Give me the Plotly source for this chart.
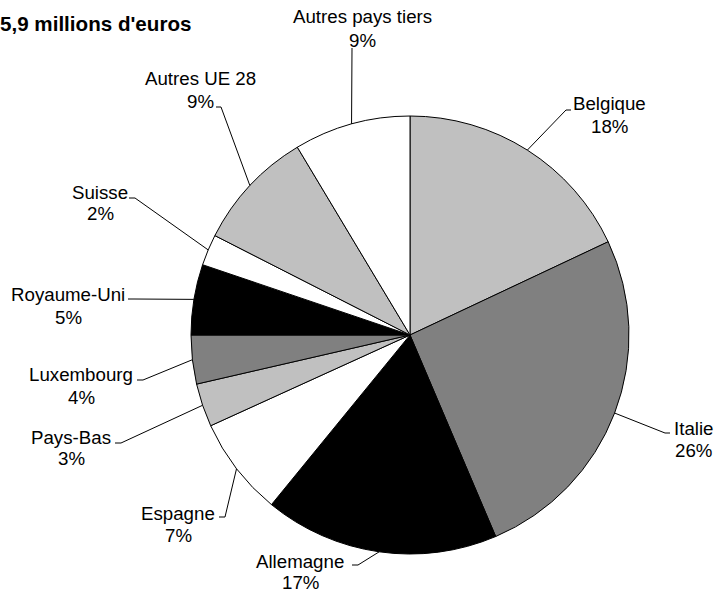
import math
import plotly.graph_objects as go

# ---- data ----
countries = ["Belgique", "Italie", "Allemagne", "Espagne", "Pays-Bas", "Luxembourg",
             "Royaume-Uni", "Suisse", "Autres UE 28", "Autres pays tiers"]
shares = [18.0, 25.6, 17.3, 7.3, 3.2, 3.6, 5.2, 2.3, 8.9, 8.6]
title_text = "5,9 millions d'euros"

# ---- styles ----
colors = ["#C0C0C0", "#808080", "#000000", "#FFFFFF", "#C0C0C0", "#808080",
          "#000000", "#FFFFFF", "#C0C0C0", "#FFFFFF"]
W, H = 714, 597
CX, CY, R = 410, 335, 219
FONT = "Liberation Sans, Arial, sans-serif"
FS = 18.7

# label layout (pixels): text x, line1 y, line2 y, start point, elbow point
label_layout = {
    "Autres pays tiers": (362, 17, 40, (352, 48), None),
    "Belgique": (609, 104, 126, (571, 110), (566, 110)),
    "Italie": (693, 428, 450, (670, 433), (665, 433)),
    "Allemagne": (300, 561, 582, (352, 565), (358, 565)),
    "Espagne": (178, 513, 535, (219, 517), (225, 517)),
    "Pays-Bas": (71, 437, 458, (115, 443), (121, 443)),
    "Luxembourg": (81, 374, 397, (137, 380), (143, 380)),
    "Royaume-Uni": (68, 294, 317, (128, 299), (134, 299)),
    "Suisse": (100, 192, 214, (129, 198), (135, 198)),
    "Autres UE 28": (200, 79, 102, (216, 107), (221, 107)),
}


def px(x):
    return x / W


def py(y):
    return 1 - y / H


fig = go.Figure(go.Pie(
    labels=countries, values=shares, sort=False, direction="clockwise", rotation=0,
    marker=dict(colors=colors, line=dict(color="#000000", width=1)),
    textinfo="none", hoverinfo="label+percent", showlegend=False,
    domain=dict(x=[px(CX - R), px(CX + R)], y=[py(CY + R), py(CY - R)]),
))

total = sum(shares)
annotations = []
shapes = []
cum = 0.0
for name, v in zip(countries, shares):
    mid = (cum + v / 2) / total * 2 * math.pi
    cum += v
    ex = CX + R * math.sin(mid)
    ey = CY - R * math.cos(mid)
    tx, y1, y2, start, elbow = label_layout[name]
    pct = int(v / total * 100 + 0.5)
    for txt, yy in ((name, y1), (f"{pct}%", y2)):
        annotations.append(dict(
            x=px(tx), y=py(yy), xref="paper", yref="paper", text=txt,
            showarrow=False, xanchor="center", yanchor="middle",
            font=dict(family=FONT, size=FS, color="#000000")))
    pts = [start] + ([elbow] if elbow else []) + [(ex, ey)]
    path = "M " + " L ".join(f"{px(a)},{py(b)}" for a, b in pts)
    shapes.append(dict(type="path", xref="paper", yref="paper", path=path,
                       line=dict(color="#000000", width=1)))

annotations.append(dict(
    x=px(193), y=py(23), xref="paper", yref="paper", text=f"<b>{title_text}</b>",
    showarrow=False, xanchor="right", yanchor="middle",
    font=dict(family=FONT, size=20.6, color="#000000")))

fig.update_layout(
    width=W, height=H, margin=dict(l=0, r=0, t=0, b=0),
    paper_bgcolor="#FFFFFF", plot_bgcolor="#FFFFFF",
    annotations=annotations, shapes=shapes,
)
fig.write_html("out.html", config={"displayModeBar": False},
               post_script="document.body.style.margin='0';document.body.style.overflow='hidden';")
